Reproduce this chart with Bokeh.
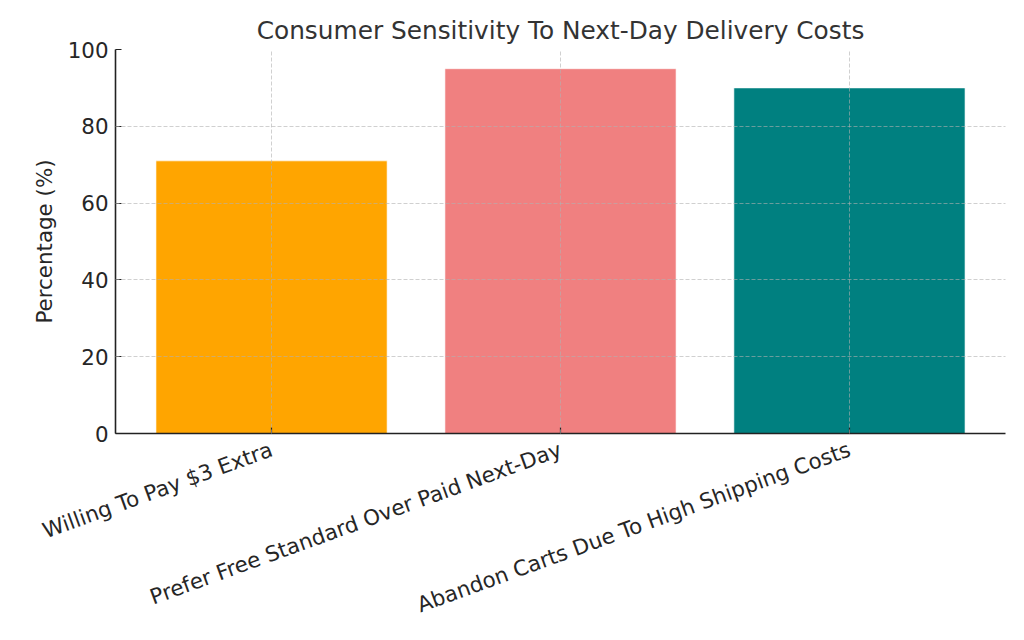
from bokeh.plotting import figure
from bokeh.models import ColumnDataSource, FixedTicker, Range1d
from bokeh.embed import file_html
from bokeh.resources import INLINE
import math

categories = ["Willing To Pay $3 Extra",
              "Prefer Free Standard Over Paid Next-Day",
              "Abandon Carts Due To High Shipping Costs"]
values = [71, 95, 90]
colors = ["#FFA500", "#F08080", "#008080"]
y_ticks = [0, 20, 40, 60, 80, 100]

xs = list(range(len(categories)))
src = ColumnDataSource(dict(x=xs, top=values, color=colors))

FONT = "DejaVu Sans"
TXT = "#262626"
FS = "21.4px"

p = figure(width=1008, height=632, output_backend="svg", toolbar_location=None,
           x_range=Range1d(-0.54, 2.54), y_range=Range1d(0, 100),
           min_border_left=115, min_border_right=3, min_border_top=49,
           min_border_bottom=0)
p.title.text = "Consumer Sensitivity To Next-Day Delivery Costs"
p.title.align = "center"
p.title.text_font = FONT
p.title.text_font_size = "24.8px"
p.title.text_font_style = "normal"
p.title.text_color = "#333333"
p.outline_line_color = None

p.vbar(x="x", top="top", bottom=0, width=0.8, fill_color="color",
       line_color="white", line_width=0.6, source=src)

for ax in (p.xaxis[0], p.yaxis[0]):
    ax.axis_line_color = "#222222"
    ax.axis_line_width = 1.6
    ax.major_tick_in = 6
    ax.major_tick_out = 0
    ax.major_tick_line_color = "#222222"
    ax.major_tick_line_width = 1.2
    ax.minor_tick_line_color = None
    ax.major_label_text_font = FONT
    ax.major_label_text_font_size = FS
    ax.major_label_text_color = TXT
    ax.axis_label_text_font = FONT
    ax.axis_label_text_font_size = FS
    ax.axis_label_text_font_style = "normal"
    ax.axis_label_text_color = TXT

p.xaxis.ticker = FixedTicker(ticks=xs)
p.xaxis.major_label_overrides = {i: c for i, c in enumerate(categories)}
p.xaxis.major_label_orientation = math.radians(20)
p.xaxis.major_label_standoff = 15

p.yaxis.ticker = FixedTicker(ticks=y_ticks)
p.yaxis.axis_label = "Percentage (%)"
p.yaxis.major_label_standoff = 7
p.yaxis.axis_label_standoff = 8

for g in (p.xgrid[0], p.ygrid[0]):
    g.grid_line_color = "#b0b0b0"
    g.grid_line_alpha = 0.6
    g.grid_line_dash = "4 2"
    g.grid_line_width = 1
    g.level = "overlay"

open("out.html", "w").write(file_html(p, INLINE))
